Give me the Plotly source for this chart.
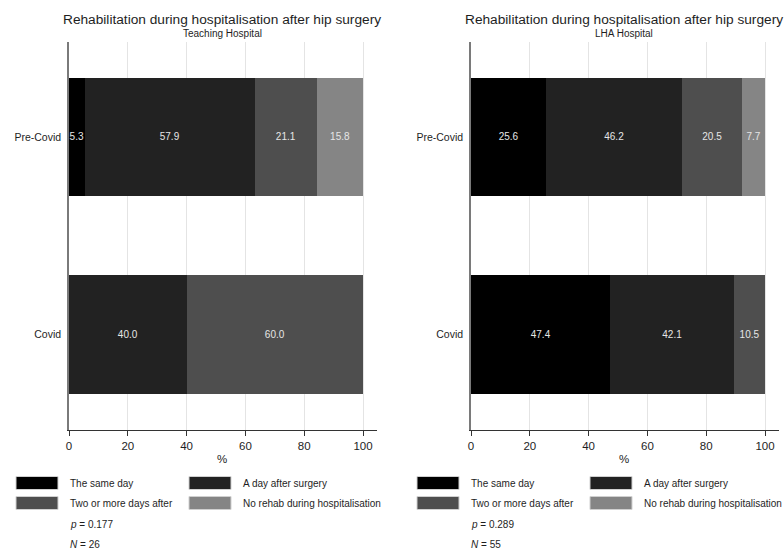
import plotly.graph_objects as go

W, H = 784, 553

categories = ["Pre-Covid", "Covid"]
series_names = ["The same day", "A day after surgery", "Two or more days after", "No rehab during hospitalisation"]
series_colors = ["#000000", "#222222", "#4e4e4e", "#858585"]

# Teaching Hospital (%)
teach_same_day = [5.3, 0.0]
teach_day_after = [57.9, 40.0]
teach_two_more = [21.1, 60.0]
teach_no_rehab = [15.8, 0.0]

# LHA Hospital (%)
lha_same_day = [25.6, 47.4]
lha_day_after = [46.2, 42.1]
lha_two_more = [20.5, 10.5]
lha_no_rehab = [7.7, 0.0]

panels = [
    {"subtitle": "Teaching Hospital", "p": "0.177", "N": "26",
     "series": [teach_same_day, teach_day_after, teach_two_more, teach_no_rehab]},
    {"subtitle": "LHA Hospital", "p": "0.289", "N": "55",
     "series": [lha_same_day, lha_day_after, lha_two_more, lha_no_rehab]},
]
main_title = "Rehabilitation during hospitalisation after hip surgery"
x_ticks = [0, 20, 40, 60, 80, 100]

FONT = "Liberation Sans, Arial, sans-serif"
TXT = "#1e1e1e"


def px(x):
    return x / W


def py(y):
    return 1 - y / H


fig = go.Figure()

# layout geometry (pixels)
plot_top, plot_bottom = 42, 430
panel_left = [69, 471]
panel_w = 308
ppu = 2.94  # pixels per % unit

shapes = []
annotations = []


def ann(x, y, text, size, xanchor="center", yanchor="middle"):
    annotations.append(dict(x=px(x), y=py(y), xref="paper", yref="paper",
                            xanchor=xanchor, yanchor=yanchor, text=text,
                            showarrow=False,
                            font=dict(size=size, color=TXT, family=FONT)))


for i, panel in enumerate(panels):
    xa = "x" if i == 0 else "x2"
    ya = "y" if i == 0 else "y2"
    for name, color, vals in zip(series_names, series_colors, panel["series"]):
        fig.add_trace(go.Bar(
            orientation="h", y=categories, x=vals, name=name,
            marker=dict(color=color, line=dict(width=0)),
            width=0.6,
            text=[f"{v:.1f}" if v else "" for v in vals],
            textposition="inside", insidetextanchor="middle", textangle=0,
            textfont=dict(color="#e6e6e6", size=10, family=FONT),
            xaxis=xa, yaxis=ya, showlegend=False, cliponaxis=False,
            hoverinfo="skip",
        ))

    L = panel_left[i]
    cx = L + panel_w / 2 - 1
    axis_key = "xaxis" if i == 0 else "xaxis2"
    yaxis_key = "yaxis" if i == 0 else "yaxis2"
    fig.layout[axis_key] = dict(
        domain=[px(L), px(L + panel_w)], range=[0, panel_w / ppu],
        anchor=ya, tickvals=x_ticks, ticks="outside", ticklen=5,
        tickcolor="#333", showline=True, linecolor="#333", linewidth=1,
        showgrid=True, gridcolor="#e4e4e4", gridwidth=1, zeroline=False,
        tickfont=dict(size=11.5, color=TXT, family=FONT), automargin=False,
        fixedrange=True,
    )
    fig.layout[yaxis_key] = dict(
        domain=[py(plot_bottom), py(plot_top)],
        type="category", categoryorder="array", categoryarray=categories,
        range=[1.484, -0.481], anchor=xa, showline=True, linecolor="#7a7a7a",
        linewidth=1.5, ticks="", showgrid=False, zeroline=False,
        tickfont=dict(size=10.5, color=TXT, family=FONT), ticklabelstandoff=4,
        automargin=False, fixedrange=True,
    )

    # titles
    ann(cx, 19, main_title, 13.7)
    ann(cx, 34, panel["subtitle"], 10)
    ann(L + 153, 459, "%", 11.5)

    # custom legend
    lx0 = 16 if i == 0 else 417
    col_dx = 173
    rows_y = [483, 503]
    for k, (name, color) in enumerate(zip(series_names, series_colors)):
        r, c = divmod(k, 2)
        sx = lx0 + c * col_dx
        sy = rows_y[r]
        shapes.append(dict(type="rect", xref="paper", yref="paper",
                           x0=px(sx), x1=px(sx + 42), y0=py(sy + 6.5), y1=py(sy - 6.5),
                           fillcolor=color, line=dict(width=1, color="#d0d0d0")))
        ann(sx + 52, sy, name, 10, xanchor="left")
    ann(lx0 + 52, 524, f"<i>p</i> = {panel['p']}", 10, xanchor="left")
    ann(lx0 + 52, 544, f"<i>N</i> = {panel['N']}", 10, xanchor="left")

fig.update_layout(
    template="none",
    width=W, height=H, barmode="stack",
    margin=dict(l=0, r=0, t=0, b=0, pad=0, autoexpand=False),
    paper_bgcolor="white", plot_bgcolor="white",
    shapes=shapes, annotations=annotations,
    uniformtext=dict(minsize=10, mode="show"),
    font=dict(family=FONT),
)

fig.write_html(
    "out.html",
    config={"displayModeBar": False},
    post_script="document.body.style.margin='0';document.body.style.overflow='hidden';",
)
